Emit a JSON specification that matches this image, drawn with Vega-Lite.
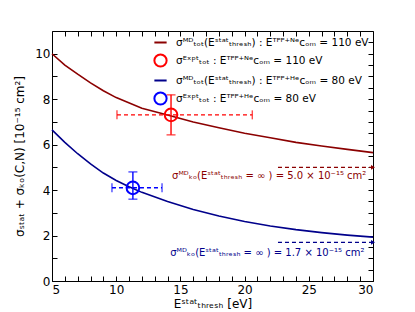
{
  "$schema": "https://vega.github.io/schema/vega-lite/v6.json",
  "width": 321,
  "height": 250,
  "autosize": "none",
  "padding": {"left": 52, "top": 31, "right": 42, "bottom": 31},
  "config": {
    "view": {"stroke": "black", "strokeWidth": 1},
    "font": "DejaVu Sans",
    "axis": {"grid": false, "domain": false, "tickColor": "black", "labelColor": "black", "titleColor": "black", "labelFontSize": 12, "titleFontSize": 12, "titleFontWeight": "normal", "labelFont": "DejaVu Sans", "titleFont": "DejaVu Sans"}
  },
  "datasets": {
    "curves": [
      {"E": 5, "sigma": 10.0, "series": "Ne MD"},
      {"E": 6, "sigma": 9.5, "series": "Ne MD"},
      {"E": 7, "sigma": 9.1, "series": "Ne MD"},
      {"E": 8, "sigma": 8.72, "series": "Ne MD"},
      {"E": 9, "sigma": 8.37, "series": "Ne MD"},
      {"E": 10, "sigma": 8.07, "series": "Ne MD"},
      {"E": 12, "sigma": 7.6, "series": "Ne MD"},
      {"E": 14, "sigma": 7.3, "series": "Ne MD"},
      {"E": 16, "sigma": 7.0, "series": "Ne MD"},
      {"E": 18, "sigma": 6.74, "series": "Ne MD"},
      {"E": 20, "sigma": 6.5, "series": "Ne MD"},
      {"E": 22, "sigma": 6.3, "series": "Ne MD"},
      {"E": 24, "sigma": 6.1, "series": "Ne MD"},
      {"E": 26, "sigma": 5.94, "series": "Ne MD"},
      {"E": 28, "sigma": 5.79, "series": "Ne MD"},
      {"E": 30, "sigma": 5.65, "series": "Ne MD"},
      {"E": 5, "sigma": 6.65, "series": "He MD"},
      {"E": 6, "sigma": 6.1, "series": "He MD"},
      {"E": 7, "sigma": 5.6, "series": "He MD"},
      {"E": 8, "sigma": 5.15, "series": "He MD"},
      {"E": 9, "sigma": 4.75, "series": "He MD"},
      {"E": 10, "sigma": 4.42, "series": "He MD"},
      {"E": 11, "sigma": 4.15, "series": "He MD"},
      {"E": 12, "sigma": 3.9, "series": "He MD"},
      {"E": 14, "sigma": 3.5, "series": "He MD"},
      {"E": 16, "sigma": 3.15, "series": "He MD"},
      {"E": 18, "sigma": 2.86, "series": "He MD"},
      {"E": 20, "sigma": 2.62, "series": "He MD"},
      {"E": 22, "sigma": 2.42, "series": "He MD"},
      {"E": 24, "sigma": 2.26, "series": "He MD"},
      {"E": 26, "sigma": 2.13, "series": "He MD"},
      {"E": 28, "sigma": 2.02, "series": "He MD"},
      {"E": 30, "sigma": 1.93, "series": "He MD"}
    ],
    "expt": [
      {"E": 14.27, "sigma": 7.31, "Elo": 10.06, "Ehi": 20.6, "slo": 6.43, "shi": 8.19, "series": "Ne Expt"},
      {"E": 11.3, "sigma": 4.1, "Elo": 9.67, "Ehi": 13.57, "slo": 3.6, "shi": 4.8, "series": "He Expt"}
    ],
    "limits": [
      {"E": 22.6, "E2": 30, "sigma": 5.0, "series": "Ne MD", "text": "σᴹᴰₖₒ(Eˢᵗᵃᵗₜₕᵣₑₛₕ = ∞ ) = 5.0 × 10⁻¹⁵ cm²", "tE": 14.35, "tsigma": 4.6},
      {"E": 22.6, "E2": 30, "sigma": 1.7, "series": "He MD", "text": "σᴹᴰₖₒ(Eˢᵗᵃᵗₜₕᵣₑₛₕ = ∞ ) = 1.7 × 10⁻¹⁵ cm²", "tE": 14.2, "tsigma": 1.22}
    ]
  },
  "layer": [
    {
      "data": {"name": "curves"},
      "mark": {"type": "line", "strokeWidth": 1.6},
      "encoding": {
        "x": {"field": "E", "type": "quantitative", "scale": {"domain": [5, 30], "nice": false, "zero": false},
          "axis": {"orient": "bottom", "values": [5,6,7,8,9,10,11,12,13,14,15,16,17,18,19,20,21,22,23,24,25,26,27,28,29,30], "format": "d", "labelExpr": "datum.value % 5 === 0 ? datum.label : ''", "tickSize": -5, "labelPadding": 8, "title": "Eˢᵗᵃᵗₜₕᵣₑₛₕ [eV]", "titlePadding": 3,
            "encode": {"ticks": {"update": {"y2": {"signal": "datum.value % 5 === 0 ? -5 : -2.5"}}}}}},
        "y": {"field": "sigma", "type": "quantitative", "scale": {"domain": [0, 11], "nice": false},
          "axis": {"orient": "left", "values": [0,0.5,1,1.5,2,2.5,3,3.5,4,4.5,5,5.5,6,6.5,7,7.5,8,8.5,9,9.5,10,10.5], "format": "d", "labelExpr": "datum.value % 2 === 0 ? datum.label : ''", "tickSize": -5, "labelPadding": 7, "title": "σₛₜₐₜ + σₖₒ(C,N) [10⁻¹⁵ cm²]", "titlePadding": 8,
            "encode": {"ticks": {"update": {"x2": {"signal": "datum.value % 2 === 0 ? 5 : 2.5"}}}}}},
        "color": {"field": "series", "type": "nominal",
          "scale": {"domain": ["Ne MD", "Ne Expt", "He MD", "He Expt"], "range": ["#8B0000", "#FF0000", "#00008B", "#0000FF"]},
          "legend": {"orient": "top-right", "offset": 4, "title": null, "labelFontSize": 10.5, "labelFont": "DejaVu Sans", "labelLimit": 400, "symbolStrokeWidth": 2, "symbolSize": 150, "rowPadding": 2, "labelOffset": 8,
            "labelExpr": "{'Ne MD': 'σᴹᴰₜₒₜ(Eˢᵗᵃᵗₜₕᵣₑₛₕ) : Eᵀᴾᴾ⁺ᴺᵉᴄₒₘ = 110 eV', 'Ne Expt': 'σᴱˣᵖᵗₜₒₜ : Eᵀᴾᴾ⁺ᴺᵉᴄₒₘ = 110 eV', 'He MD': 'σᴹᴰₜₒₜ(Eˢᵗᵃᵗₜₕᵣₑₛₕ) : Eᵀᴾᴾ⁺ᴴᵉᴄₒₘ = 80 eV', 'He Expt': 'σᴱˣᵖᵗₜₒₜ : Eᵀᴾᴾ⁺ᴴᵉᴄₒₘ = 80 eV'}[datum.value]",
            "encode": {"symbols": {"update": {
              "shape": {"signal": "indexof(datum.value, 'MD') >= 0 ? 'stroke' : 'circle'"},
              "fillOpacity": {"value": 0},
              "opacity": {"value": 1}
            }}}}}
      }
    },
    {
      "data": {"name": "expt"},
      "mark": {"type": "rule", "strokeDash": [4, 3], "strokeWidth": 1.4},
      "encoding": {
        "x": {"field": "Elo", "type": "quantitative", "axis": {"orient": "top", "values": [5,6,7,8,9,10,11,12,13,14,15,16,17,18,19,20,21,22,23,24,25,26,27,28,29,30], "labels": false, "tickSize": -5, "title": null,
          "encode": {"ticks": {"update": {"y2": {"signal": "datum.value % 5 === 0 ? 5 : 2.5"}}}}}},
        "x2": {"field": "Ehi"},
        "y": {"field": "sigma", "type": "quantitative", "axis": {"orient": "right", "values": [0,0.5,1,1.5,2,2.5,3,3.5,4,4.5,5,5.5,6,6.5,7,7.5,8,8.5,9,9.5,10,10.5], "labels": false, "tickSize": -5, "title": null,
          "encode": {"ticks": {"update": {"x2": {"signal": "datum.value % 2 === 0 ? -5 : -2.5"}}}}}},
        "color": {"field": "series", "type": "nominal"}
      }
    },
    {
      "data": {"name": "expt"},
      "mark": {"type": "rule", "strokeWidth": 1.4},
      "encoding": {
        "x": {"field": "E", "type": "quantitative", "axis": null},
        "y": {"field": "slo", "type": "quantitative", "axis": null},
        "y2": {"field": "shi"},
        "color": {"field": "series", "type": "nominal"}
      }
    },
    {
      "data": {"name": "expt"},
      "mark": {"type": "tick", "orient": "vertical", "size": 9, "thickness": 1.4},
      "encoding": {
        "x": {"field": "Elo", "type": "quantitative", "axis": null},
        "y": {"field": "sigma", "type": "quantitative", "axis": null},
        "color": {"field": "series", "type": "nominal"}
      }
    },
    {
      "data": {"name": "expt"},
      "mark": {"type": "tick", "orient": "vertical", "size": 9, "thickness": 1.4},
      "encoding": {
        "x": {"field": "Ehi", "type": "quantitative", "axis": null},
        "y": {"field": "sigma", "type": "quantitative", "axis": null},
        "color": {"field": "series", "type": "nominal"}
      }
    },
    {
      "data": {"name": "expt"},
      "mark": {"type": "tick", "orient": "horizontal", "size": 9, "thickness": 1.4},
      "encoding": {
        "x": {"field": "E", "type": "quantitative", "axis": null},
        "y": {"field": "slo", "type": "quantitative", "axis": null},
        "color": {"field": "series", "type": "nominal"}
      }
    },
    {
      "data": {"name": "expt"},
      "mark": {"type": "tick", "orient": "horizontal", "size": 9, "thickness": 1.4},
      "encoding": {
        "x": {"field": "E", "type": "quantitative", "axis": null},
        "y": {"field": "shi", "type": "quantitative", "axis": null},
        "color": {"field": "series", "type": "nominal"}
      }
    },
    {
      "data": {"name": "expt"},
      "mark": {"type": "point", "filled": false, "size": 160, "strokeWidth": 2, "opacity": 1},
      "encoding": {
        "x": {"field": "E", "type": "quantitative", "axis": null},
        "y": {"field": "sigma", "type": "quantitative", "axis": null},
        "color": {"field": "series", "type": "nominal"}
      }
    },
    {
      "data": {"name": "limits"},
      "mark": {"type": "rule", "strokeDash": [4, 3], "strokeWidth": 1.2},
      "encoding": {
        "x": {"field": "E", "type": "quantitative", "axis": null},
        "x2": {"field": "E2"},
        "y": {"field": "sigma", "type": "quantitative", "axis": null},
        "color": {"field": "series", "type": "nominal"}
      }
    },
    {
      "data": {"name": "limits"},
      "mark": {"type": "point", "shape": "triangle-right", "filled": true, "size": 22, "opacity": 1, "dx": -3},
      "encoding": {
        "x": {"field": "E2", "type": "quantitative", "axis": null},
        "y": {"field": "sigma", "type": "quantitative", "axis": null},
        "color": {"field": "series", "type": "nominal"}
      }
    },
    {
      "data": {"name": "limits"},
      "mark": {"type": "text", "align": "left", "baseline": "middle", "fontSize": 10, "font": "DejaVu Sans"},
      "encoding": {
        "x": {"field": "tE", "type": "quantitative", "axis": null},
        "y": {"field": "tsigma", "type": "quantitative", "axis": null},
        "text": {"field": "text"},
        "color": {"field": "series", "type": "nominal"}
      }
    }
  ],
  "resolve": {"axis": {"x": "independent", "y": "independent"}}
}
